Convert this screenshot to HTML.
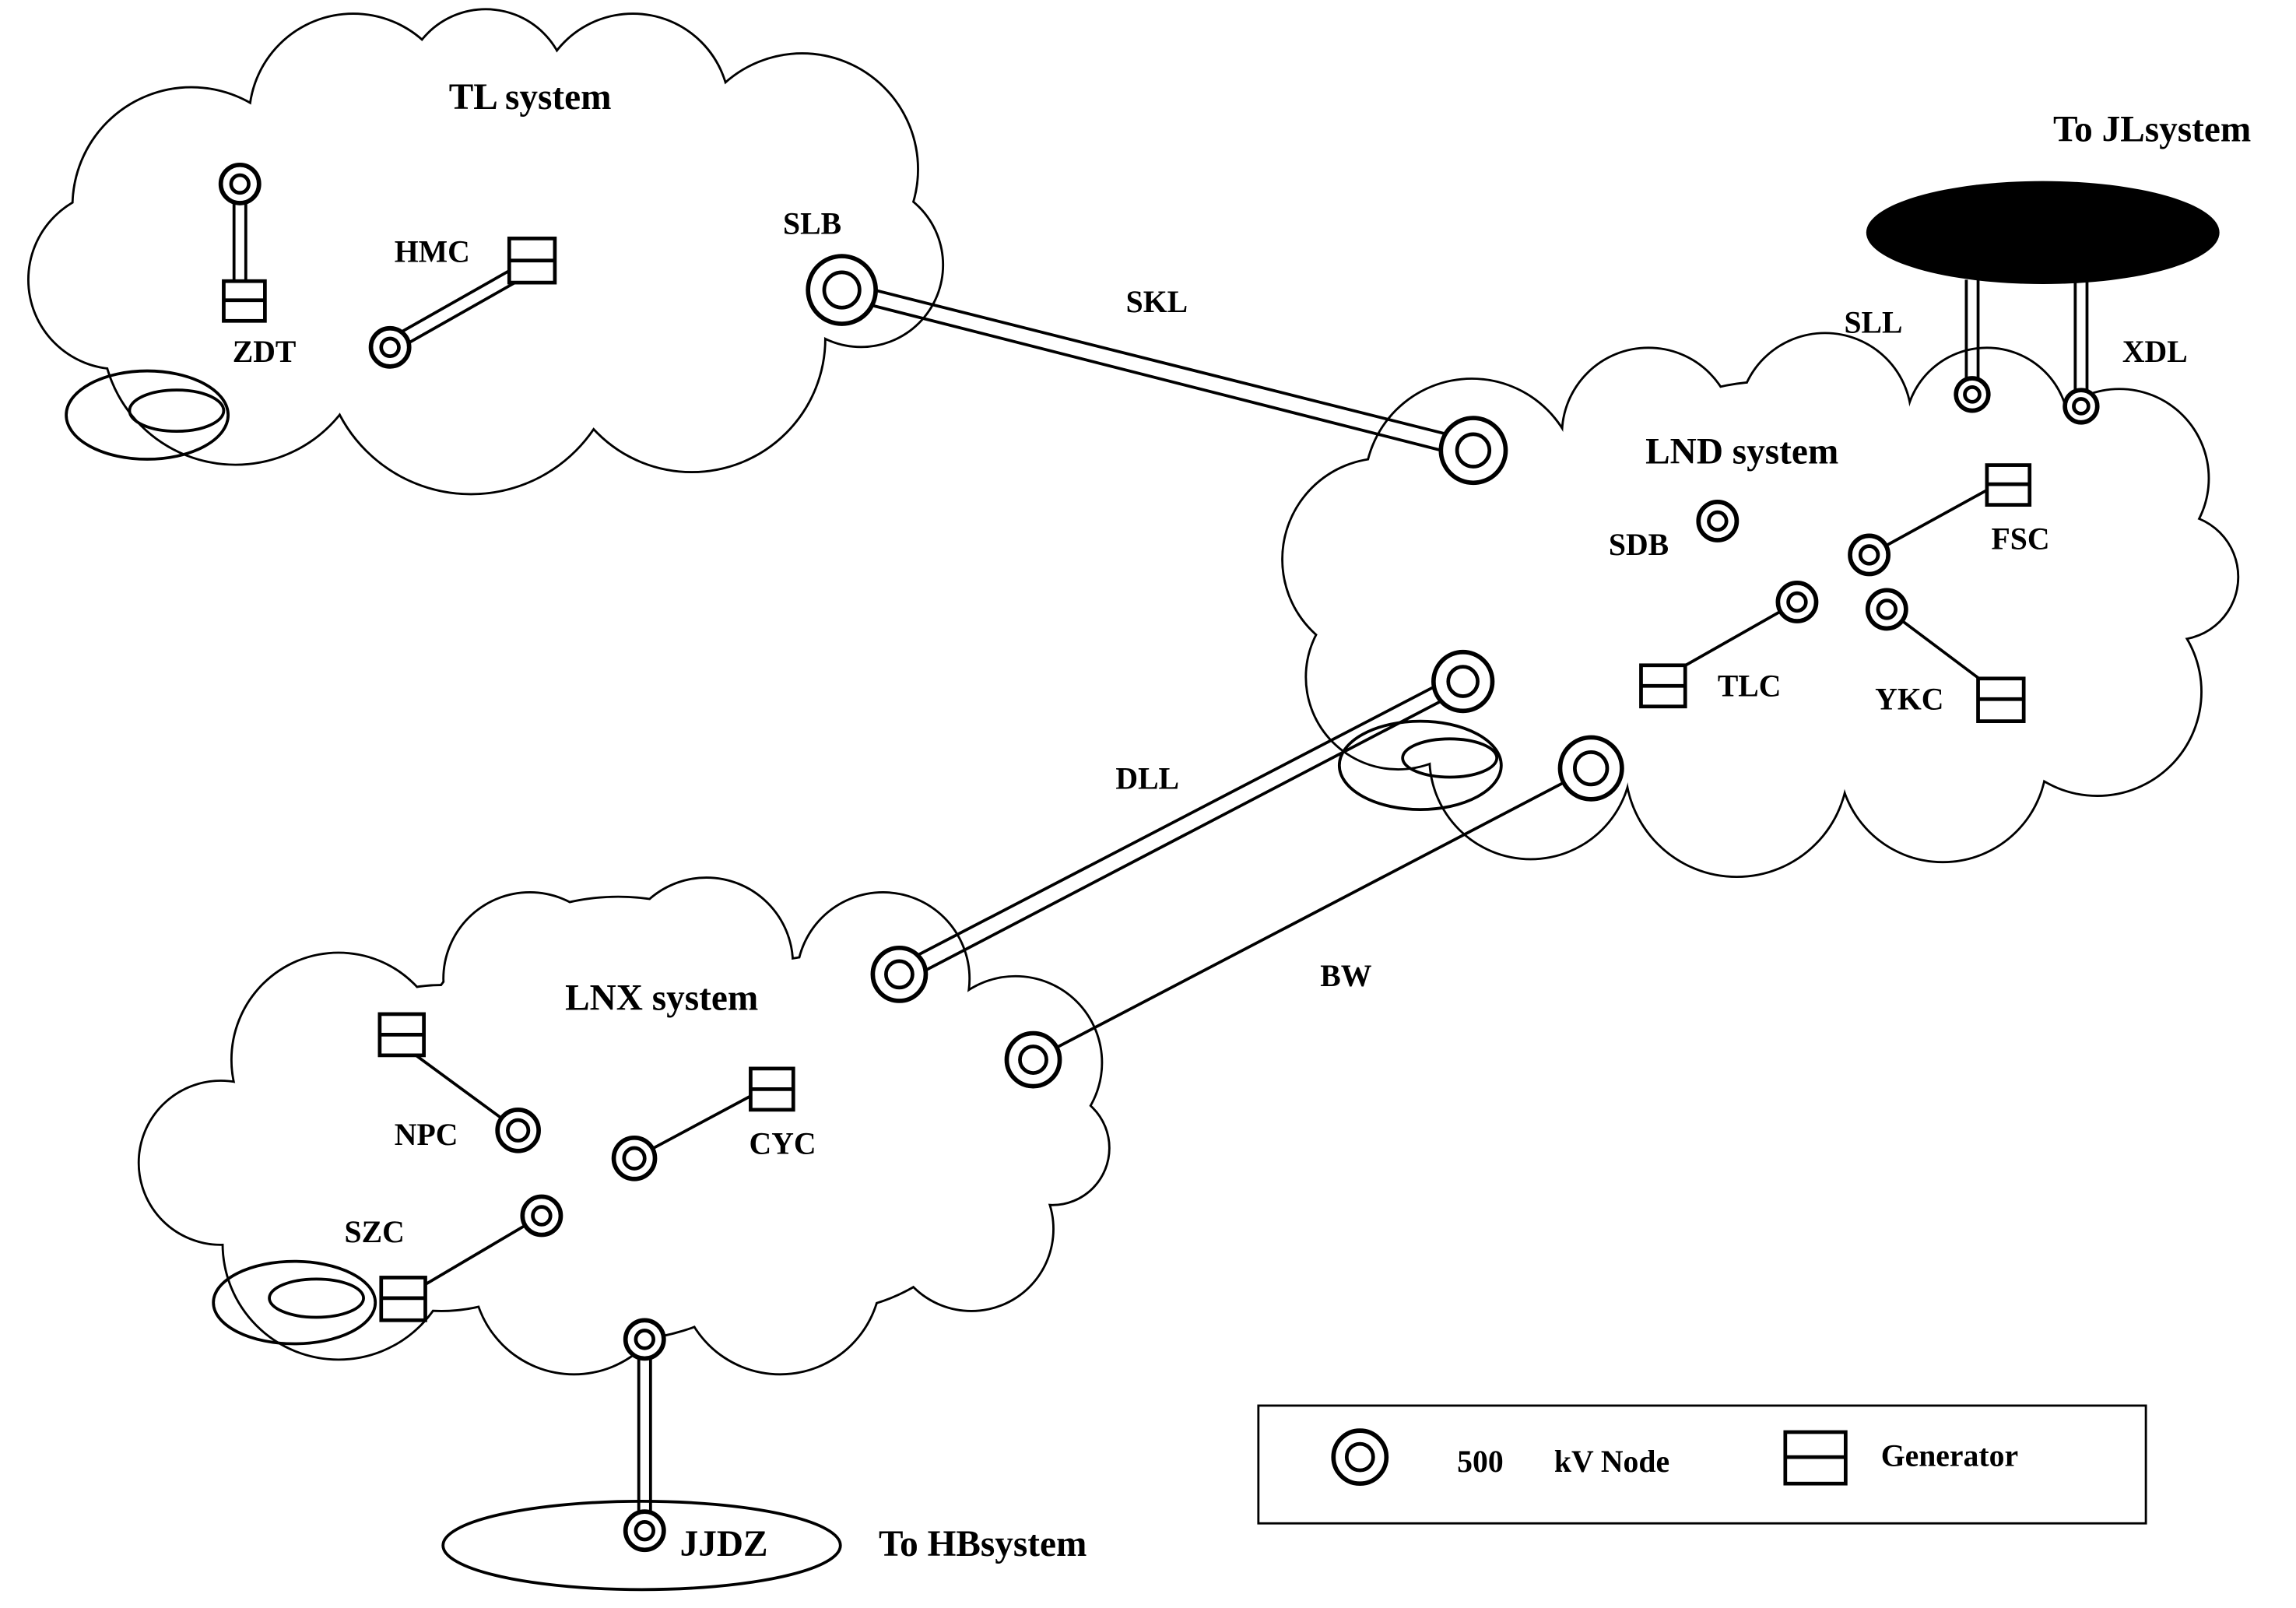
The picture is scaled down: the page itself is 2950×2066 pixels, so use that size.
<!DOCTYPE html>
<html><head><meta charset="utf-8"><style>html,body{margin:0;padding:0;background:#fff}svg{display:block}text{font-family:"Liberation Serif",serif;font-weight:bold;font-size:21px;fill:#000}</style></head>
<body>
<svg id="s" width="2950" height="2066" viewBox="0 0 1560 1092.5" xmlns="http://www.w3.org/2000/svg">
<g id="cs"></g><g id="cf"></g>

<g fill="none" stroke="#000" stroke-width="2">
<ellipse cx="100" cy="282" rx="55" ry="30"/><ellipse cx="120" cy="279" rx="32" ry="14"/>
<ellipse cx="965" cy="520" rx="55" ry="30"/><ellipse cx="985" cy="515" rx="32" ry="13"/>
<ellipse cx="200" cy="885" rx="55" ry="28"/><ellipse cx="215" cy="882" rx="32" ry="13"/>
<ellipse cx="436" cy="1050" rx="135" ry="30"/>
</g>
<ellipse cx="1388" cy="158" rx="120" ry="35" fill="#000"/>

<g stroke="#000" stroke-width="2" fill="none">
<line x1="159" y1="125" x2="159" y2="192"/><line x1="167" y1="125" x2="167" y2="192"/>
<line x1="263" y1="231" x2="353" y2="180"/><line x1="267" y1="239" x2="357" y2="188"/>
<line x1="574" y1="192" x2="1003" y2="300"/><line x1="571" y1="202" x2="999" y2="311"/>
<line x1="1336" y1="190" x2="1336" y2="268"/><line x1="1344" y1="190" x2="1344" y2="268"/>
<line x1="1410" y1="190" x2="1410" y2="276"/><line x1="1418" y1="190" x2="1418" y2="276"/>
<line x1="991" y1="458" x2="608" y2="657"/><line x1="997" y1="467" x2="614" y2="667"/>
<line x1="434" y1="910" x2="434" y2="1040"/><line x1="442" y1="910" x2="442" y2="1040"/>
<line x1="1270" y1="377" x2="1350" y2="333"/>
<line x1="1221" y1="409" x2="1140" y2="455"/>
<line x1="1282" y1="414" x2="1350" y2="465"/>
<line x1="1081" y1="522" x2="702" y2="720"/>
<line x1="273" y1="710" x2="352" y2="768"/>
<line x1="431" y1="787" x2="515" y2="742"/>
<line x1="368" y1="826" x2="285" y2="875"/>
</g>

<g stroke="#000" stroke-width="3" fill="#fff">
<circle cx="163" cy="125" r="13"/><circle cx="265" cy="236" r="13"/>
<circle cx="1167" cy="354" r="13"/><circle cx="1270" cy="377" r="13"/><circle cx="1221" cy="409" r="13"/><circle cx="1282" cy="414" r="13"/>
<circle cx="1340" cy="268" r="11"/><circle cx="1414" cy="276" r="11"/>
<circle cx="352" cy="768" r="14"/><circle cx="431" cy="787" r="14"/><circle cx="368" cy="826" r="13"/>
<circle cx="438" cy="910" r="13"/><circle cx="438" cy="1040" r="13"/>
<circle cx="572" cy="197" r="23"/><circle cx="1001" cy="306" r="22"/><circle cx="994" cy="463" r="20"/><circle cx="1081" cy="522" r="21"/><circle cx="611" cy="662" r="18"/><circle cx="702" cy="720" r="18"/>
<circle cx="924" cy="990" r="18"/>
</g>
<g stroke="#000" stroke-width="2.5" fill="none">
<circle cx="163" cy="125" r="6"/><circle cx="265" cy="236" r="6"/>
<circle cx="1167" cy="354" r="6"/><circle cx="1270" cy="377" r="6"/><circle cx="1221" cy="409" r="6"/><circle cx="1282" cy="414" r="6"/>
<circle cx="1340" cy="268" r="5"/><circle cx="1414" cy="276" r="5"/>
<circle cx="352" cy="768" r="7"/><circle cx="431" cy="787" r="7"/><circle cx="368" cy="826" r="6"/>
<circle cx="438" cy="910" r="6"/><circle cx="438" cy="1040" r="6"/>
<circle cx="572" cy="197" r="12"/><circle cx="1001" cy="306" r="11"/><circle cx="994" cy="463" r="10"/><circle cx="1081" cy="522" r="11"/><circle cx="611" cy="662" r="9"/><circle cx="702" cy="720" r="9"/>
<circle cx="924" cy="990" r="9"/>
</g>
<g stroke="#000" stroke-width="2.5" fill="#fff">
<rect x="152" y="191" width="28" height="27"/><line x1="152" y1="204" x2="180" y2="204"/>
<rect x="346" y="162" width="31" height="30"/><line x1="346" y1="177" x2="377" y2="177"/>
<rect x="1350" y="316" width="29" height="27"/><line x1="1350" y1="329" x2="1379" y2="329"/>
<rect x="1115" y="452" width="30" height="28"/><line x1="1115" y1="466" x2="1145" y2="466"/>
<rect x="1344" y="461" width="31" height="29"/><line x1="1344" y1="475" x2="1375" y2="475"/>
<rect x="258" y="689" width="30" height="28"/><line x1="258" y1="703" x2="288" y2="703"/>
<rect x="510" y="726" width="29" height="28"/><line x1="510" y1="740" x2="539" y2="740"/>
<rect x="259" y="868" width="30" height="29"/><line x1="259" y1="882" x2="289" y2="882"/>
<rect x="1213" y="973" width="41" height="35"/><line x1="1213" y1="990" x2="1254" y2="990"/>
</g>
<rect x="855" y="955" width="603" height="80" fill="none" stroke="#000" stroke-width="1.5"/>

<text x="305" y="74" style="font-size:25px">TL system</text>
<text x="268" y="178">HMC</text>
<text x="158" y="246">ZDT</text>
<text x="532" y="159">SLB</text>
<text x="765" y="212">SKL</text>
<text x="1395" y="96" style="font-size:25px">To JLsystem</text>
<text x="1253" y="226">SLL</text>
<text x="1442" y="246">XDL</text>
<text x="1118" y="315" style="font-size:25px">LND system</text>
<text x="1093" y="377">SDB</text>
<text x="1353" y="373">FSC</text>
<text x="1167" y="473">TLC</text>
<text x="1274" y="482">YKC</text>
<text x="758" y="536">DLL</text>
<text x="897" y="670">BW</text>
<text x="384" y="686" style="font-size:25px">LNX system</text>
<text x="268" y="778">NPC</text>
<text x="509" y="784">CYC</text>
<text x="234" y="844">SZC</text>
<text x="462" y="1057" style="font-size:25px">JJDZ</text>
<text x="597" y="1057" style="font-size:25px">To HBsystem</text>
<text x="990" y="1000">500</text>
<text x="1056" y="1000">kV Node</text>
<text x="1278" y="996">Generator</text>
</svg>
<script>
var C=[
[130,140,80],[240,80,70],[330,62,55],[430,75,65],[545,115,78],[585,180,55],[470,230,90],[320,235,100],[160,225,90],[80,190,60],[200,170,90],[400,165,100],[300,150,110],
[1000,330,72],[1120,295,58],[1240,285,58],[1350,292,55],[1440,325,60],[1478,392,42],[1425,470,70],[1320,515,70],[1180,520,75],[1040,515,68],[950,460,62],[940,380,68],[1200,400,140],[1300,400,120],[1080,420,110],[1420,400,60],
[230,720,72],[360,665,58],[480,655,58],[600,665,58],[690,722,58],[715,780,38],[660,835,55],[530,865,68],[390,865,68],[230,845,78],[150,790,55],[420,760,150],[560,770,120],[300,780,110]
];
var ns="http://www.w3.org/2000/svg",cs=document.getElementById('cs'),cf=document.getElementById('cf');
C.forEach(function(c){
 var a=document.createElementNS(ns,'circle');a.setAttribute('cx',c[0]);a.setAttribute('cy',c[1]);a.setAttribute('r',c[2]);
 a.setAttribute('fill','#000');a.setAttribute('stroke','#000');a.setAttribute('stroke-width','3');cs.appendChild(a);
 var b=document.createElementNS(ns,'circle');b.setAttribute('cx',c[0]);b.setAttribute('cy',c[1]);b.setAttribute('r',c[2]);
 b.setAttribute('fill','#fff');cf.appendChild(b);
});
</script>
</body></html>
